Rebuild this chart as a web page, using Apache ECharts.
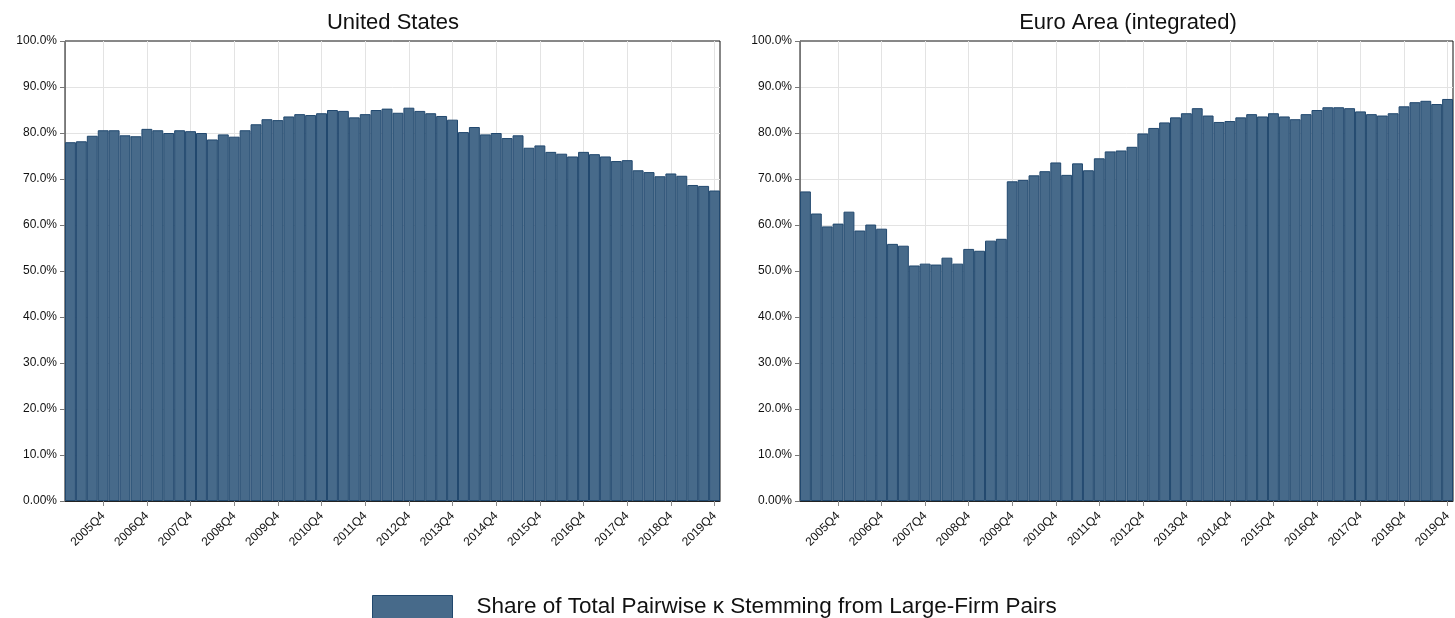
<!DOCTYPE html>
<html>
<head>
<meta charset="utf-8">
<title>Large-firm pair share</title>
<script src="https://cdn.jsdelivr.net/npm/echarts@6/dist/echarts.min.js"></script>
<style>
  html, body { margin: 0; padding: 0; background: #ffffff; }
  #chart { width: 1455px; height: 618px; }
</style>
</head>
<body>
<div id="chart"></div>
<script>
  var years = [2005, 2006, 2007, 2008, 2009, 2010, 2011, 2012, 2013, 2014, 2015, 2016, 2017, 2018, 2019];
  var quarterNames = ["Q1", "Q2", "Q3", "Q4"];
  var yTicks = [0, 10, 20, 30, 40, 50, 60, 70, 80, 90, 100];
  var panelTitles = ["United States", "Euro Area (integrated)"];
  var legendName = "Share of Total Pairwise \u03ba Stemming from Large-Firm Pairs";

  // share (%) per quarter, 2005Q1 .. 2019Q4
  var usShare = [
    78.0, 78.2, 79.4, 80.6, 80.6, 79.5, 79.3, 80.9, 80.6, 80.0,
    80.6, 80.4, 80.0, 78.6, 79.7, 79.2, 80.6, 81.9, 83.0, 82.8,
    83.6, 84.1, 83.9, 84.3, 85.0, 84.8, 83.4, 84.1, 85.0, 85.3,
    84.4, 85.5, 84.8, 84.3, 83.7, 82.9, 80.2, 81.3, 79.7, 80.0,
    78.9, 79.5, 76.8, 77.3, 75.9, 75.5, 74.9, 75.9, 75.4, 74.9,
    73.9, 74.1, 71.9, 71.5, 70.6, 71.2, 70.7, 68.7, 68.5, 67.5
  ];
  var euShare = [
    67.3, 62.5, 59.7, 60.3, 62.9, 58.8, 60.1, 59.2, 55.9, 55.5,
    51.2, 51.6, 51.4, 52.9, 51.6, 54.8, 54.4, 56.6, 57.0, 69.5,
    69.8, 70.8, 71.7, 73.6, 70.9, 73.4, 71.9, 74.5, 76.0, 76.2,
    77.0, 79.9, 81.1, 82.3, 83.4, 84.3, 85.4, 83.8, 82.4, 82.6,
    83.4, 84.1, 83.6, 84.3, 83.6, 83.0, 84.1, 85.0, 85.6, 85.6,
    85.4, 84.7, 84.1, 83.8, 84.3, 85.8, 86.7, 87.0, 86.3, 87.4
  ];

  var quarters = [];
  years.forEach(function (y) {
    quarterNames.forEach(function (q) { quarters.push(y + q); });
  });
  // half-step slots used only to place the vertical grid lines on Q4 bar centres
  var halfSteps = [];
  for (var k = 0; k <= quarters.length * 2; k++) { halfSteps.push(""); }

  var fontFamily = "'Liberation Sans', Arial, sans-serif";
  var barFill = "#476a8a";
  var barEdge = "#21486e";
  var gridColor = "#e3e3e3";

  var grids = [
    { left: 65, right: 735, top: 41, bottom: 117 },
    { left: 800, right: 2, top: 41, bottom: 117 }
  ];

  function isQ4(index, value) {
    return String(value).slice(-2) === "Q4";
  }

  function formatPct(v) {
    return v === 0 ? "0.00%" : v.toFixed(1) + "%";
  }

  function quarterAxis(gridIndex) {
    return {
      type: "category",
      gridIndex: gridIndex,
      data: quarters,
      axisLine: { show: true, lineStyle: { color: "#222", width: 1 } },
      axisTick: { show: true, alignWithLabel: true, interval: isQ4, length: 5, lineStyle: { color: "#8a8a8a" } },
      axisLabel: { interval: isQ4, rotate: 45, fontSize: 12, color: "#111", margin: 13, fontFamily: fontFamily },
      splitLine: { show: false }
    };
  }

  function gridLineAxis(gridIndex) {
    return {
      type: "category",
      gridIndex: gridIndex,
      boundaryGap: false,
      data: halfSteps,
      axisLine: { show: false },
      axisTick: { show: false },
      axisLabel: { show: false },
      splitLine: {
        show: true,
        interval: function (index) { return index % 8 === 7; },
        lineStyle: { color: gridColor, width: 1 }
      }
    };
  }

  function shareAxis(gridIndex) {
    return {
      type: "value",
      gridIndex: gridIndex,
      min: yTicks[0],
      max: yTicks[yTicks.length - 1],
      interval: yTicks[1] - yTicks[0],
      axisLine: { show: true, lineStyle: { color: "#777" } },
      axisTick: { show: true, length: 5, lineStyle: { color: "#777" } },
      axisLabel: { formatter: formatPct, fontSize: 12, color: "#111", margin: 8, fontFamily: fontFamily },
      splitLine: { show: true, showMinLine: false, showMaxLine: false, lineStyle: { color: gridColor, width: 1 } }
    };
  }

  function shareSeries(data, axisIndex) {
    return {
      type: "bar",
      name: legendName,
      xAxisIndex: axisIndex,
      yAxisIndex: axisIndex,
      data: data,
      barCategoryGap: "0%",
      itemStyle: { color: barFill, borderColor: barEdge, borderWidth: 1 },
      emphasis: { disabled: true },
      z: 3
    };
  }

  var chart = echarts.init(document.getElementById("chart"), null, { renderer: "canvas" });

  chart.setOption({
    animation: false,
    backgroundColor: "#ffffff",
    textStyle: { fontFamily: fontFamily },
    title: [
      { text: panelTitles[0], left: 388, top: 7, textAlign: "center",
        textStyle: { fontSize: 22, fontWeight: "normal", color: "#111", fontFamily: fontFamily } },
      { text: panelTitles[1], left: 1123, top: 7, textAlign: "center",
        textStyle: { fontSize: 22, fontWeight: "normal", color: "#111", fontFamily: fontFamily } }
    ],
    grid: grids.map(function (g) {
      return Object.assign({ show: true, borderColor: "#111", borderWidth: 1, backgroundColor: "transparent" }, g);
    }),
    legend: {
      left: 367,
      top: 590,
      icon: "rect",
      itemWidth: 80,
      itemHeight: 23,
      data: [legendName],
      itemStyle: { color: barFill, borderColor: barEdge, borderWidth: 1 },
      textStyle: { fontSize: 22.5, color: "#111", fontFamily: fontFamily, padding: [0, 0, 0, 19] },
      selectedMode: false
    },
    xAxis: [quarterAxis(0), quarterAxis(1), gridLineAxis(0), gridLineAxis(1)],
    yAxis: [shareAxis(0), shareAxis(1)],
    series: [shareSeries(usShare, 0), shareSeries(euShare, 1)]
  });
</script>
</body>
</html>
